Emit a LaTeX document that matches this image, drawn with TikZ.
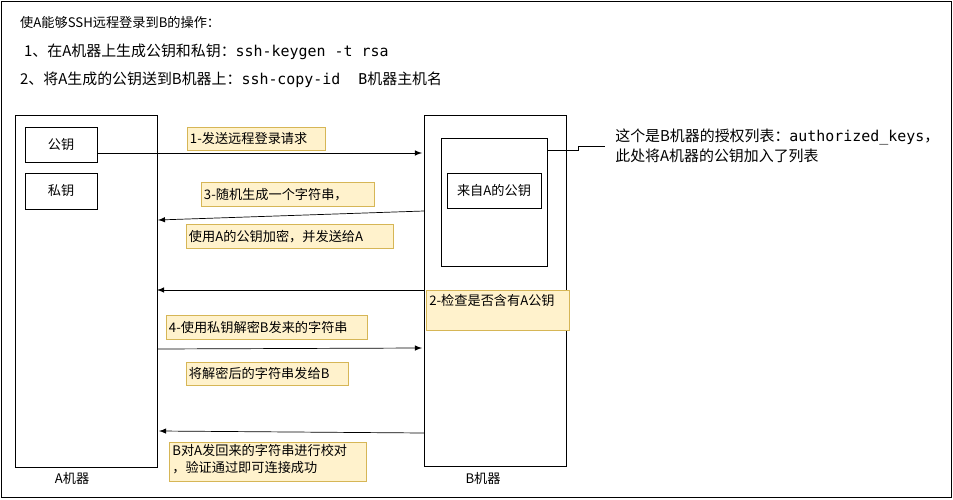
\documentclass[tikz,border=0pt]{standalone}
\usepackage{fontspec}
\setmainfont{Noto Sans CJK SC}
\setmonofont{DejaVu Sans Mono}
\usetikzlibrary{positioning}
\definecolor{notefill}{HTML}{FFF2CC}
\definecolor{notedraw}{HTML}{D6B656}
\begin{document}
\begin{tikzpicture}[x=0.02cm,y=-0.02cm,font=\fontsize{7.5}{9.5}\selectfont,
    boxstyle/.style={draw, thin},
    notestyle/.style={draw=notedraw, fill=notefill, inner xsep=1.5pt, inner ysep=0pt, align=left, anchor=north west},
    arrowstyle/.style={draw, -latex}]
\useasboundingbox (0,0) rectangle (953,500);
\draw (1,1) rectangle (951,497);
% header
\node[anchor=west] (title) at (14,22) {使A能够SSH远程登录到B的操作：};
\node[anchor=west, font=\fontsize{8.5}{10}\selectfont] (step1) at (18,52) {1、在A机器上生成公钥和私钥：\texttt{ssh-keygen -t rsa}};
\node[anchor=west, font=\fontsize{8.5}{10}\selectfont] (step2) at (14,80) {2、将A生成的公钥送到B机器上：\texttt{ssh-copy-id\ \ B}机器主机名};
% machines
\draw[boxstyle] (15,115) rectangle (157,467);
\node (amach) at (72,478) {A机器};
\draw[boxstyle] (424,115) rectangle (566,466);
\node (bmach) at (483,478) {B机器};
\node[boxstyle, minimum width=72*0.02cm, minimum height=35*0.02cm] (pub) at (61,144.5) {公钥};
\node[boxstyle, minimum width=72*0.02cm, minimum height=36*0.02cm] (priv) at (61,191) {私钥};
\node[boxstyle, minimum width=106*0.02cm, minimum height=128*0.02cm] (keys) at (494,202) {};
\node[boxstyle, minimum width=94*0.02cm, minimum height=35*0.02cm] (fromA) at (494,190.5) {来自A的公钥};
\node[anchor=north west, align=left, inner sep=0pt, font=\fontsize{8.5}{11}\selectfont] (authnote) at (615,129) {这个是B机器的授权列表：\texttt{authorized\_keys}，\\此处将A机器的公钥加入了列表};
\coordinate (kink) at (578,146);
\draw (keys.east |- 0,150) -- (578,150) -- (kink) -- (605,146);
% messages
\coordinate (a1) at (157,153); \coordinate (b1) at (422,153);
\draw[arrowstyle] (pub.east |- a1) -- (b1);
\node[notestyle, text width=2.66cm, minimum height=23*0.02cm] (n1) at (187,127) {1-发送远程登录请求};
\coordinate (b3) at (424,211); \coordinate (a3) at (158,220);
\draw[arrowstyle] (b3) -- (a3);
\node[notestyle, text width=3.36cm, minimum height=24*0.02cm] (n3) at (201,182) {3-随机生成一个字符串，};
\node[notestyle, text width=4.04cm, minimum height=24*0.02cm] (n3b) at (186,224) {使用A的公钥加密，并发送给A};
\coordinate (b2) at (424,290); \coordinate (a2) at (157,290);
\draw[arrowstyle] (b2) -- (a2);
\node[notestyle, minimum width=143*0.02cm, minimum height=40*0.02cm] (n2) at (426,290) {};
\node[anchor=north west, inner sep=0pt] at (429,294) {2-检查是否含有A公钥};
\node[notestyle, text width=3.92cm, minimum height=24*0.02cm] (n4) at (166,315) {4-使用私钥解密B发来的字符串};
\coordinate (a4) at (157,349); \coordinate (b4) at (422,348);
\draw[arrowstyle] (a4) -- (b4);
\node[notestyle, text width=3.14cm, minimum height=23*0.02cm] (n5) at (186,362) {将解密后的字符串发给B};
\coordinate (b6) at (424,433); \coordinate (a6) at (159,431);
\draw[arrowstyle] (b6) -- (a6);
\node[notestyle, minimum width=197*0.02cm, minimum height=39*0.02cm] (n6) at (169,442) {};
\node[anchor=north west, align=left, inner sep=0pt] at (172,444) {B对A发回来的字符串进行校对\\，验证通过即可连接成功};
\end{tikzpicture}
\end{document}
